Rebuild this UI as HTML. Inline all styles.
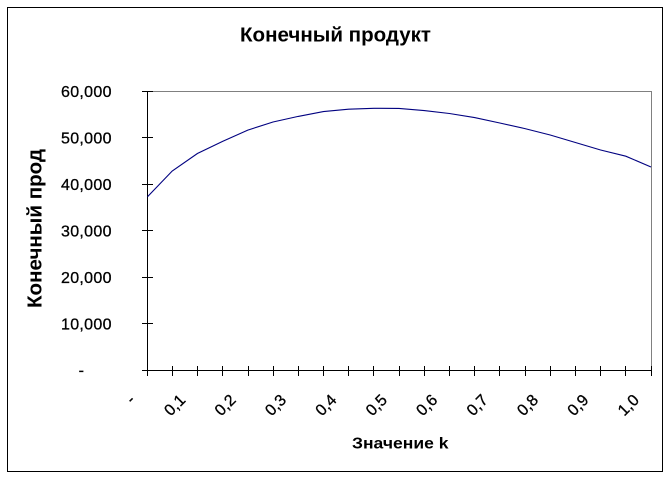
<!DOCTYPE html>
<html>
<head>
<meta charset="utf-8">
<style>
  html, body { margin: 0; padding: 0; background: #fff; }
  svg { display: block; }
  text { font-family: "Liberation Sans", Arial, sans-serif; fill: #000; }
</style>
</head>
<body>
<svg width="672" height="479" viewBox="0 0 672 479" xmlns="http://www.w3.org/2000/svg">
  <rect x="0" y="0" width="672" height="479" fill="#fff"/>
  <!-- outer border -->
  <rect x="7.5" y="7.5" width="655" height="464" fill="none" stroke="#000" stroke-width="1" shape-rendering="crispEdges"/>

  <!-- title -->
  <text x="240" y="41.5" font-size="20" font-weight="bold" textLength="191" lengthAdjust="spacingAndGlyphs">Конечный продукт</text>

  <!-- plot area borders -->
  <g shape-rendering="crispEdges" stroke-width="1">
    <line x1="147" y1="91.5" x2="652" y2="91.5" stroke="#808080"/>
    <line x1="651.5" y1="91" x2="651.5" y2="370" stroke="#808080"/>
    <line x1="147.5" y1="91" x2="147.5" y2="376" stroke="#000"/>
    <line x1="142" y1="370.5" x2="652" y2="370.5" stroke="#000"/>
    <!-- y ticks -->
    <line x1="142" y1="91.5" x2="153" y2="91.5" stroke="#000"/>
    <line x1="142" y1="137.5" x2="153" y2="137.5" stroke="#000"/>
    <line x1="142" y1="184.5" x2="153" y2="184.5" stroke="#000"/>
    <line x1="142" y1="230.5" x2="153" y2="230.5" stroke="#000"/>
    <line x1="142" y1="277.5" x2="153" y2="277.5" stroke="#000"/>
    <line x1="142" y1="323.5" x2="153" y2="323.5" stroke="#000"/>
    <!-- x ticks -->
    <g stroke="#000">
      <line x1="172.5" y1="366" x2="172.5" y2="376"/>
      <line x1="197.5" y1="366" x2="197.5" y2="376"/>
      <line x1="222.5" y1="366" x2="222.5" y2="376"/>
      <line x1="248.5" y1="366" x2="248.5" y2="376"/>
      <line x1="273.5" y1="366" x2="273.5" y2="376"/>
      <line x1="298.5" y1="366" x2="298.5" y2="376"/>
      <line x1="323.5" y1="366" x2="323.5" y2="376"/>
      <line x1="348.5" y1="366" x2="348.5" y2="376"/>
      <line x1="373.5" y1="366" x2="373.5" y2="376"/>
      <line x1="399.5" y1="366" x2="399.5" y2="376"/>
      <line x1="424.5" y1="366" x2="424.5" y2="376"/>
      <line x1="449.5" y1="366" x2="449.5" y2="376"/>
      <line x1="474.5" y1="366" x2="474.5" y2="376"/>
      <line x1="499.5" y1="366" x2="499.5" y2="376"/>
      <line x1="525.5" y1="366" x2="525.5" y2="376"/>
      <line x1="550.5" y1="366" x2="550.5" y2="376"/>
      <line x1="575.5" y1="366" x2="575.5" y2="376"/>
      <line x1="600.5" y1="366" x2="600.5" y2="376"/>
      <line x1="625.5" y1="366" x2="625.5" y2="376"/>
      <line x1="651.5" y1="366" x2="651.5" y2="376"/>
    </g>
  </g>

  <!-- y tick labels -->
  <g font-size="16" text-anchor="end" stroke="#000" stroke-width="0.3">
    <text x="111.5" y="97" textLength="50.5" lengthAdjust="spacing">60,000</text>
    <text x="111.5" y="143.5" textLength="50.5" lengthAdjust="spacing">50,000</text>
    <text x="111.5" y="190" textLength="50.5" lengthAdjust="spacing">40,000</text>
    <text x="111.5" y="236.5" textLength="50.5" lengthAdjust="spacing">30,000</text>
    <text x="111.5" y="283" textLength="50.5" lengthAdjust="spacing">20,000</text>
    <text x="111.5" y="329.5" textLength="50.5" lengthAdjust="spacing">10,000</text>
    <text x="84" y="375.5">-</text>
  </g>

  <!-- y axis title -->
  <text transform="translate(41.5,308) rotate(-90)" x="0" y="0" font-size="20" font-weight="bold" textLength="159" lengthAdjust="spacingAndGlyphs">Конечный прод</text>

  <!-- x tick labels -->
  <g font-size="16" text-anchor="end" stroke="#000" stroke-width="0.3">
    <text transform="translate(136,401) rotate(-45)">-</text>
    <text transform="translate(186.4,401) rotate(-45)">0,1</text>
    <text transform="translate(236.8,401) rotate(-45)">0,2</text>
    <text transform="translate(287.2,401) rotate(-45)">0,3</text>
    <text transform="translate(337.6,401) rotate(-45)">0,4</text>
    <text transform="translate(388,401) rotate(-45)">0,5</text>
    <text transform="translate(438.4,401) rotate(-45)">0,6</text>
    <text transform="translate(488.8,401) rotate(-45)">0,7</text>
    <text transform="translate(539.2,401) rotate(-45)">0,8</text>
    <text transform="translate(589.6,401) rotate(-45)">0,9</text>
    <text transform="translate(640,401) rotate(-45)">1,0</text>
  </g>

  <!-- x axis title -->
  <text x="352" y="448.5" font-size="16" font-weight="bold" textLength="96.5" lengthAdjust="spacingAndGlyphs">Значение k</text>

  <!-- data series -->
  <polyline fill="none" stroke="#000080" stroke-width="1.1"
    points="147.5,196.7 172.2,171 197.4,153.5 222.6,141.4 247.8,130.1 273,122 298.2,116.4 323.4,111.6 348.6,109.2 373.8,108.3 399,108.4 424.2,110.6 449.4,113.5 474.6,117.6 499.8,123 525,128.6 550.2,135 575.4,142.5 600.6,150 625.8,156.2 651,167"/>
</svg>
</body>
</html>
